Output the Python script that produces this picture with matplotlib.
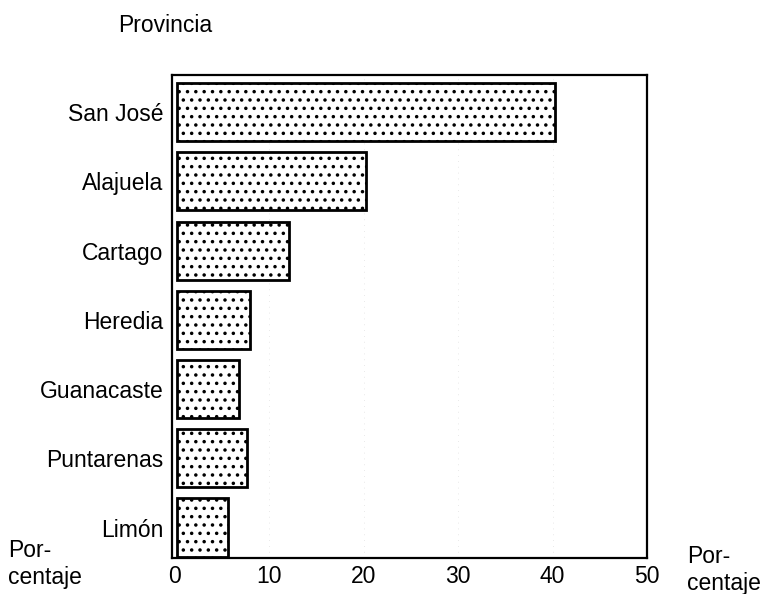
import matplotlib.pyplot as plt
import numpy as np

plt.rcParams['font.family'] = ['Liberation Sans', 'DejaVu Sans']
plt.rcParams['hatch.linewidth'] = 1.3

# data
provincias = ['San José', 'Alajuela', 'Cartago', 'Heredia', 'Guanacaste', 'Puntarenas', 'Limón']
porcentaje = [40.0, 20.0, 11.8, 7.7, 6.6, 7.4, 5.4]
xticks = [0, 10, 20, 30, 40, 50]

fig = plt.figure(figsize=(7.63, 5.94), dpi=100)
ax = fig.add_axes([0.2254, 0.0606, 0.6225, 0.8131])

y = np.arange(len(provincias))
ax.barh(y, porcentaje, height=0.84, left=0.25, color='white', edgecolor='black',
        linewidth=2, hatch='..')

ax.set_ylim(6.44, -0.536)
ax.set_xlim(-0.3, 50)
ax.set_yticks(y)
ax.set_yticklabels(provincias, fontsize=16.5)
ax.set_xticks(xticks)
ax.set_xticklabels([str(t) for t in xticks], fontsize=16.5)
ax.tick_params(length=0)
ax.tick_params(axis='x', pad=5)
ax.tick_params(axis='y', pad=6)
for s in ax.spines.values():
    s.set_linewidth(1.6)

# faint dotted guide lines like in the print
for t in [10, 20, 30, 40]:
    ax.axvline(t, color='#e2e2e2', linestyle=(0, (1, 6)), linewidth=0.6, zorder=0)

fig.text(118 / 763, 1 - 25 / 594, 'Provincia', fontsize=16.5, va='center', ha='left')
fig.text(8 / 763, 1 - 564 / 594, 'Por-\ncentaje', fontsize=16.5, va='center', ha='left',
         linespacing=1.25)
fig.text(687 / 763, 1 - 570 / 594, 'Por-\ncentaje', fontsize=16.5, va='center', ha='left',
         linespacing=1.25)

plt.savefig('out.png', dpi=100)
plt.close()
